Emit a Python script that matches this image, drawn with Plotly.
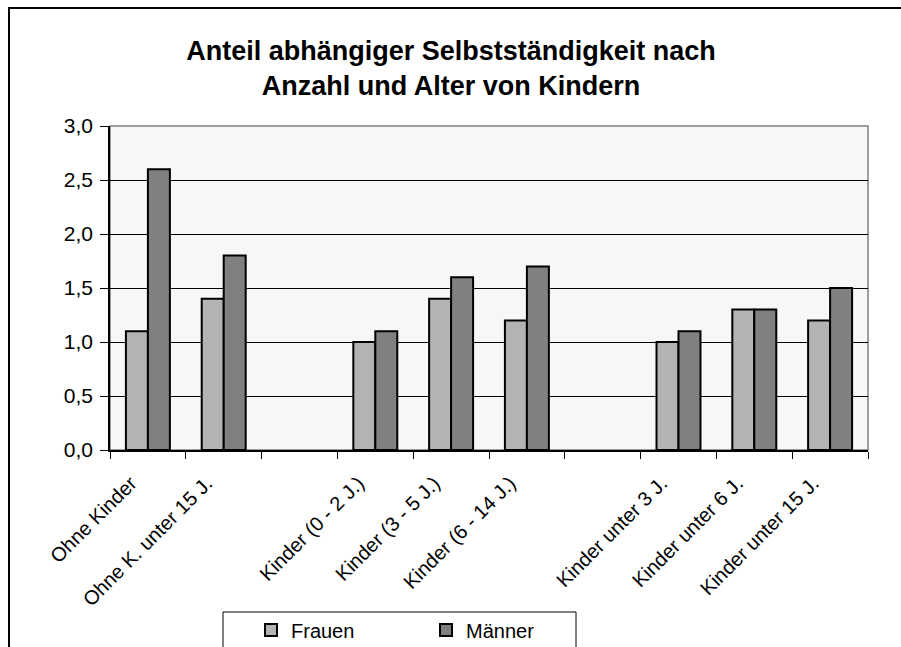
import plotly.graph_objects as go

categories = ["Ohne Kinder", "Ohne K. unter 15 J.", " ", "Kinder (0 - 2 J.)",
              "Kinder (3 - 5 J.)", "Kinder (6 - 14 J.)", "  ", "Kinder unter 3 J.",
              "Kinder unter 6 J.", "Kinder unter 15 J."]
frauen = [1.1, 1.4, None, 1.0, 1.4, 1.2, None, 1.0, 1.3, 1.2]
maenner = [2.6, 1.8, None, 1.1, 1.6, 1.7, None, 1.1, 1.3, 1.5]
y_ticks = [0, 0.5, 1.0, 1.5, 2.0, 2.5, 3.0]

fig = go.Figure()
fig.add_trace(go.Bar(name="Frauen", x=categories, y=frauen,
                     marker=dict(color="#b3b3b3", line=dict(color="black", width=2))))
fig.add_trace(go.Bar(name="Männer", x=categories, y=maenner,
                     marker=dict(color="#808080", line=dict(color="black", width=2))))

W, H = 901, 647
L, R, T, B = 110, 868, 126, 450
pw, ph = R - L, B - T

def px(x):
    return (x - L) / pw

def py(y):
    return (B - y) / ph

fig.update_layout(
    width=W, height=H,
    margin=dict(l=L, r=W - R, t=T, b=H - B),
    paper_bgcolor="white",
    plot_bgcolor="#f7f7f7",
    barmode="group",
    bargap=0.42,
    bargroupgap=0,
    separators=",.",
    font=dict(family="Liberation Sans, Arial, sans-serif", color="black"),
    title=dict(text="<b>Anteil abhängiger Selbstständigkeit nach<br>Anzahl und Alter von Kindern</b>",
               x=451 / W, xanchor="center", xref="container", y=1 - 60 / H, yanchor="middle",
               yref="container", font=dict(size=27)),
    showlegend=True,
    legend=dict(orientation="h", x=251 / W, y=1 - 630 / H, xref="container", yref="container",
                xanchor="left", yanchor="middle",
                borderwidth=0, bgcolor="rgba(0,0,0,0)",
                font=dict(size=20), entrywidth=130, entrywidthmode="pixels",
                traceorder="normal"),
    xaxis=dict(tickangle=-45, tickfont=dict(size=20), showline=True, linecolor="black",
               linewidth=1.5, ticks="outside", tickson="boundaries", ticklen=7,
               tickcolor="black", showgrid=False, categoryorder="array",
               categoryarray=categories, automargin=False,
               ticklabelstandoff=12, ticklabelshift=-17),
    yaxis=dict(range=[0, 3.0], tickvals=y_ticks, tickformat=".1f", tickfont=dict(size=21),
               showline=True, linecolor="black", linewidth=1.5, ticks="outside", ticklen=8,
               tickcolor="black", showgrid=True, gridcolor="black", gridwidth=1,
               zeroline=False, automargin=False, ticklabelstandoff=3),
    shapes=[
        dict(type="rect", xref="paper", yref="paper", x0=0, x1=1, y0=0, y1=1,
             line=dict(color="#808080", width=1.5), layer="below"),
        dict(type="rect", xref="paper", yref="paper", x0=px(9), x1=px(1000), y0=py(8), y1=py(700),
             line=dict(color="black", width=2), layer="below"),
        dict(type="rect", xref="paper", yref="paper", x0=px(223), x1=px(576), y0=py(612), y1=py(700),
             line=dict(color="black", width=1), fillcolor="white", layer="below"),
    ],
)

fig.write_html("out.html", config={"displayModeBar": False},
               post_script="document.body.style.margin='0';")
